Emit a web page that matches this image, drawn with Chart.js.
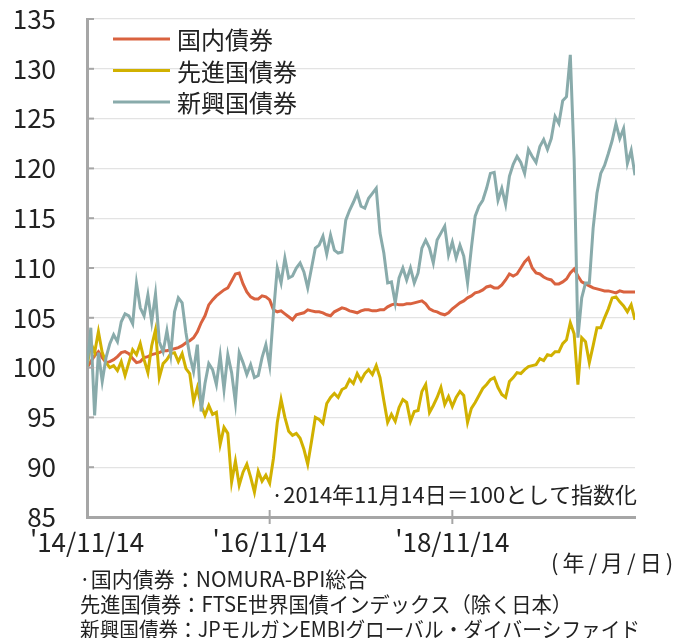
<!DOCTYPE html>
<html lang="ja">
<head>
<meta charset="utf-8">
<script src="https://cdn.jsdelivr.net/npm/chart.js@4.4.1/dist/chart.umd.min.js"></script>
<style>
  html, body { margin: 0; padding: 0; background: #fff; }
</style>
</head>
<body>
<canvas id="chart" width="684" height="638"></canvas>
<script>
// half-month steps from 2014/11/14 (index 0) to 2020/11 (index 144), index 2014/11/14 = 100
const domestic = [
  100.0, 100.6, 101.2, 101.6, 101.0, 100.5, 100.6, 100.8, 101.1, 101.5,
  101.6, 101.4, 100.9, 100.5, 100.6, 101.0, 101.1, 101.3, 101.4, 101.5,
  101.7, 101.7, 101.8, 101.9, 102.0, 102.2, 102.5, 102.7, 103.0, 103.6,
  104.5, 105.2, 106.3, 106.8, 107.2, 107.5, 107.8, 108.0, 108.7, 109.4,
  109.5, 108.4, 107.6, 107.1, 106.9, 106.9, 107.2, 107.1, 106.8, 105.8,
  105.6, 105.7, 105.4, 105.1, 104.8, 105.3, 105.4, 105.5, 105.8, 105.7,
  105.6, 105.6, 105.5, 105.3, 105.2, 105.6, 105.8, 106.0, 105.9, 105.7,
  105.6, 105.5, 105.7, 105.8, 105.8, 105.7, 105.7, 105.8, 105.8, 106.1,
  106.3, 106.4, 106.3, 106.3, 106.4, 106.4, 106.5, 106.6, 106.7, 106.4,
  105.9, 105.7, 105.6, 105.4, 105.3, 105.5, 105.9, 106.2, 106.5, 106.7,
  107.0, 107.2, 107.5, 107.6, 107.8, 108.1, 108.2, 108.0, 108.0, 108.3,
  108.8, 109.4, 109.2, 109.4, 110.0, 110.6, 111.0, 110.0, 109.5, 109.4,
  109.1, 108.9, 108.8, 108.4, 108.4, 108.6, 108.9, 109.5, 109.9, 109.2,
  108.6, 108.4, 108.2, 108.0, 107.9, 107.8, 107.7, 107.7, 107.6, 107.5,
  107.7, 107.6, 107.6, 107.6, 107.6
];
const developed = [
  100.0, 102.5, 101.5, 103.6, 101.5, 100.5, 100.0, 100.2, 99.7, 100.6,
  99.2, 100.5, 101.8, 101.3, 102.4, 100.8, 99.5, 102.2, 103.8, 99.0,
  100.4, 100.8, 101.4, 101.5, 100.6, 101.4, 99.9, 99.4, 96.6, 98.0,
  96.2, 95.2, 96.2, 95.3, 95.5, 92.3, 94.0, 93.4, 88.5, 90.6,
  88.2, 89.5, 90.3, 89.0, 87.5, 89.6, 88.6, 89.2, 88.4, 90.9,
  94.5, 96.8, 95.0, 93.6, 93.2, 93.4, 92.9, 91.8, 90.3, 92.6,
  95.0, 94.8, 94.4, 96.4, 97.0, 97.4, 97.0, 97.8, 98.0, 98.8,
  98.4, 99.4, 98.7, 99.4, 99.8, 99.3, 100.2, 99.0, 96.7, 94.5,
  95.3, 94.6, 96.0, 96.8, 96.5, 94.6, 95.6, 95.7, 97.6, 98.3,
  95.5, 96.2, 97.0, 98.0, 96.3, 97.1, 96.1, 97.0, 97.6, 97.2,
  94.5, 95.9, 96.5, 97.2, 97.9, 98.3, 98.8, 99.0, 98.0, 97.3,
  97.0, 98.6, 99.0, 99.5, 99.4, 99.8, 100.1, 100.2, 100.3, 100.9,
  100.7, 101.3, 101.2, 101.6, 101.6, 102.4, 102.8, 104.5, 103.4, 98.3,
  103.0, 102.6, 100.5, 102.2, 104.0, 104.0, 105.0, 105.9, 107.0, 107.1,
  106.6, 106.2, 105.6, 106.3, 104.8
];
const emerging = [
  100.0, 104.0, 95.2, 101.5, 98.6, 101.0, 102.4, 103.3, 102.6, 104.6,
  105.4, 105.2, 104.4, 108.5, 106.0, 105.2, 107.3, 104.6, 107.4, 102.6,
  101.6, 103.7, 101.3, 105.6, 107.0, 106.5, 103.5, 101.2, 99.6, 102.3,
  95.6, 98.4, 100.4, 99.8, 98.3, 101.2, 97.8, 101.3, 99.5, 96.5,
  101.5, 100.5, 99.3, 100.3, 99.0, 99.2, 101.0, 102.3, 100.2, 105.5,
  110.0, 108.5, 111.0, 109.0, 109.2, 110.0, 110.5, 109.6, 108.0, 110.0,
  112.0, 112.3, 113.2, 111.4, 113.3, 111.8, 111.5, 111.6, 114.8, 115.8,
  116.6, 117.5, 116.2, 116.0, 117.0, 117.5, 118.0, 113.5, 111.5, 108.5,
  108.6, 106.5, 109.0, 110.0, 108.8, 110.0, 108.5, 109.5, 112.0, 112.8,
  112.0, 110.5, 112.8, 113.5, 114.2, 111.3, 112.6, 111.0, 112.3, 111.2,
  108.5, 112.0, 115.2, 116.2, 116.8, 118.0, 119.5, 119.6, 116.8, 118.0,
  116.4, 119.2, 120.4, 121.2, 120.6, 119.5, 121.9, 121.2, 120.6, 122.2,
  122.9, 121.9, 123.0, 125.2, 124.5, 126.8, 127.2, 131.4, 121.0, 103.0,
  107.0, 108.5, 108.5, 114.0, 117.5, 119.5, 120.3, 121.5, 122.8, 124.5,
  123.0, 124.0, 120.5, 121.8, 119.3
];
const seriesNames = ['国内債券', '先進国債券', '新興国債券'];
const seriesColors = ['#d9623f', '#d1b100', '#89abab'];

const xTickPos = [0, 48, 96];
const xTickLabels = ["'14/11/14", "'16/11/14", "'18/11/14"];

const baseNote = '·2014年11月14日＝100として指数化';
const dateUnit = '(年/月/日)';
const sources = [
  '·国内債券：NOMURA-BPI総合',
  '先進国債券：FTSE世界国債インデックス（除く日本）',
  '新興国債券：JPモルガンEMBIグローバル・ダイバーシファイド'
];

const FAMILY = '"Noto Sans CJK JP", "Noto Sans", sans-serif';
const TEXT = '#222';
const AXIS = '#a6a6a6';

const decor = {
  id: 'decor',
  afterDraw(chart) {
    const { ctx, chartArea: area, scales: { x, y } } = chart;
    ctx.save();

    // small tick marks
    ctx.strokeStyle = AXIS;
    ctx.lineWidth = 2;
    y.ticks.forEach(t => {
      const py = y.getPixelForValue(t.value);
      ctx.beginPath();
      ctx.moveTo(area.left, py);
      ctx.lineTo(area.left + 7, py);
      ctx.stroke();
    });
    xTickPos.slice(1).forEach(v => {
      const px = x.getPixelForValue(v);
      ctx.beginPath();
      ctx.moveTo(px, area.bottom - 7);
      ctx.lineTo(px, area.bottom + 7);
      ctx.stroke();
    });

    // legend inside the plot
    ctx.font = `24px ${FAMILY}`;
    ctx.textBaseline = 'middle';
    ctx.textAlign = 'left';
    chart.data.datasets.forEach((ds, i) => {
      const ly = 39 + i * 31.5;
      ctx.strokeStyle = ds.borderColor;
      ctx.lineWidth = 3;
      ctx.beginPath();
      ctx.moveTo(113, ly);
      ctx.lineTo(170, ly);
      ctx.stroke();
      ctx.fillStyle = TEXT;
      ctx.fillText(ds.label, 177, ly + 1);
    });

    // notes
    ctx.fillStyle = TEXT;
    ctx.font = `22px ${FAMILY}`;
    ctx.textAlign = 'right';
    ctx.fillText(baseNote, 637, 495, 366);
    ctx.textAlign = 'left';
    ctx.font = `21px ${FAMILY}`;
    ctx.fillText(sources[0], 79, 579, 304);
    ctx.fillText(sources[1], 80, 604, 492);
    ctx.fillText(sources[2], 80, 629, 560);
    ctx.font = `22px ${FAMILY}`;
    ctx.letterSpacing = '4px';
    ctx.fillText(dateUnit, 551, 563);
    ctx.restore();
  }
};

const labels = domestic.map((_, i) => i);
const values = [domestic, developed, emerging];

new Chart(document.getElementById('chart').getContext('2d'), {
  type: 'line',
  data: {
    labels,
    datasets: values.map((data, i) => ({
      label: seriesNames[i],
      data,
      borderColor: seriesColors[i],
      borderWidth: 3,
      pointRadius: 0,
      tension: 0,
      fill: false,
      order: 2 - i
    }))
  },
  options: {
    responsive: false,
    animation: false,
    events: [],
    layout: { padding: { top: 19, right: 49, left: 0, bottom: 0 } },
    plugins: {
      legend: { display: false },
      tooltip: { enabled: false }
    },
    scales: {
      x: {
        type: 'linear',
        min: 0,
        max: 144,
        afterBuildTicks: s => { s.ticks = xTickPos.map(v => ({ value: v })); },
        afterFit: s => { s.height = 121; },
        ticks: {
          callback: v => xTickLabels[xTickPos.indexOf(v)],
          autoSkip: false,
          maxRotation: 0,
          padding: 10,
          color: TEXT,
          font: { family: FAMILY, size: 26 }
        },
        grid: { display: false, drawTicks: false },
        border: { color: AXIS, width: 3 }
      },
      y: {
        min: 85,
        max: 135,
        afterFit: s => {
          s.width = 87;
          s.paddingTop = 0;
          s.paddingBottom = 0;
        },
        ticks: {
          stepSize: 5,
          padding: 31,
          color: TEXT,
          font: { family: FAMILY, size: 26 }
        },
        grid: { color: '#e3e3e3', lineWidth: 1.3, drawTicks: false },
        border: { color: AXIS, width: 3 }
      }
    }
  },
  plugins: [decor]
});
</script>
</body>
</html>
